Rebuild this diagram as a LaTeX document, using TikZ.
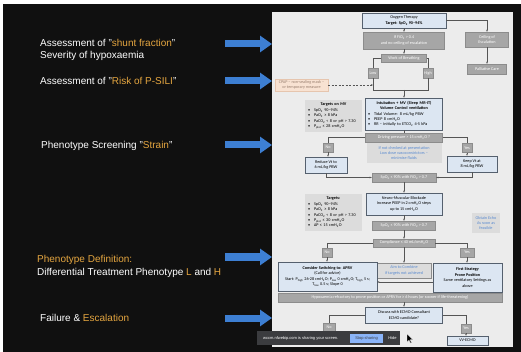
\documentclass[tikz,border=0pt]{standalone}
\usepackage{fontspec}
\setmainfont{Liberation Sans}
\newfontfamily\carlito{Carlito}
\usetikzlibrary{arrows.meta, positioning, calc}
\definecolor{slidegold}{HTML}{E5A640}
\definecolor{slideblack}{HTML}{101010}
\definecolor{arrowblue}{HTML}{3D7FD3}
\definecolor{chartbg}{HTML}{ECECEC}
\definecolor{boxblue}{HTML}{DCE6F2}
\definecolor{boxedge}{HTML}{55606E}
\definecolor{boxgray}{HTML}{A6A6A6}
\definecolor{grayedge}{HTML}{8C8C8C}
\definecolor{boxlight}{HTML}{DCDCDC}
\definecolor{textblue}{HTML}{5B8BD0}
\definecolor{lineclr}{HTML}{555555}
\definecolor{peach}{HTML}{F8E2D2}
\definecolor{peachedge}{HTML}{E6C5AE}
\definecolor{cpaptext}{HTML}{9A8070}
\definecolor{barclr}{HTML}{3B3C3F}
\definecolor{stopblue}{HTML}{8AB4F8}
\newcommand{\subtxt}[1]{\textsubscript{#1}}
\newcommand{\bul}{\makebox[6pt][l]{•}}
\newcommand{\hl}[1]{\textcolor{slidegold}{#1}}

\begin{document}
\begin{tikzpicture}[
    x=1pt, y=-1pt,
    side/.style={text=white, anchor=west, inner sep=0pt, font=\fontsize{10}{12}\selectfont},
    bigarrow/.style={arrowblue, line width=7pt, -{Triangle[length=12pt, width=16pt]}},
    flow/.style={font=\carlito\fontsize{4.2}{5.4}\selectfont, align=center, inner sep=0.5pt},
    bluebox/.style={flow, draw=boxedge, fill=boxblue, line width=0.5pt},
    graybox/.style={flow, draw=grayedge, fill=boxgray, text=white, line width=0.4pt},
    tagbox/.style={graybox, minimum width=10pt, minimum height=9pt},
    notebox/.style={flow, fill=boxlight, text=textblue},
    targetbox/.style={flow, fill=boxlight, align=left, inner xsep=3pt},
    link/.style={draw=lineclr, line width=0.4pt},
    arr/.style={link, -{Stealth[length=2.2pt, width=1.8pt]}},
]
\useasboundingbox (0,0) rectangle (521,352);
% --- slide background ---
\fill[white] (0,0) rectangle (521,352);
\fill[slideblack] (3,4) rectangle (521,352);
\fill[chartbg] (272,12) rectangle (513,347);

% --- left column: steps and blue arrows ---
\node[side] (shunt) at (40,43) {Assessment of "\hl{shunt fraction}"};
\node[side] (severity) at (40,56) {Severity of hypoxaemia};
\node[side] (psili) at (40,81) {Assessment of "\hl{Risk of P-SILI}"};
\node[side] (strain) at (41,146) {Phenotype Screening "\hl{Strain}"};
\node[side] (phenodef) at (37,260) {\hl{Phenotype Definition:}};
\node[side] (phenoLH) at (37,273) {Differential Treatment Phenotype \hl{L} and \hl{H}};
\node[side] (failure) at (40,318) {Failure \& \hl{Escalation}};

\foreach \ypos in {44, 81, 145, 257, 318}
    \draw[bigarrow] (225,\ypos) -- (272,\ypos);

% --- flowchart: top ---
\node[bluebox, minimum width=84pt, minimum height=15pt] (oxy) at (404,20.5)
    {Oxygen Therapy\\\textbf{Target: SpO\subtxt{2} 90–94\%}};
\node[graybox, minimum width=81pt, minimum height=17pt] (fio) at (404,40.5)
    {If FiO\subtxt{2} > 0.4\\and no ceiling of escalation};
\node[graybox, minimum width=43pt, minimum height=15pt] (ceil) at (487,39.5)
    {Ceiling of\\Escalation};
\node[graybox, minimum width=39pt, minimum height=10pt] (pall) at (487,69) {Palliative Care};
\node[graybox, minimum width=45pt, minimum height=8pt] (wob) at (404,58) {Work of Breathing};
\node[tagbox, minimum height=10pt] (low) at (373,73) {Low};
\node[tagbox, minimum height=10pt] (high) at (428,73) {High};
\coordinate (merge) at (404,90);
\node[flow, fill=peach, draw=peachedge, text=cpaptext, minimum width=53pt, minimum height=12pt]
    (cpap) at (301.5,85) {CPAP – non-sealing mask –\\or temporary measure};

% --- flowchart: ventilation ---
\node[targetbox, minimum width=57pt, minimum height=32pt, text width=51pt] (mvaims) at (333.5,116)
    {\hfill\textbf{Targets on MV}\hfill\null\\
     \bul SpO\subtxt{2} 90–94\%\\
     \bul PaO\subtxt{2} ≥ 8 kPa\\
     \bul PaCO\subtxt{2} < 8 or pH > 7.30\\
     \bul P\subtxt{plat} ≤ 28 cmH\subtxt{2}O};
\node[bluebox, minimum width=77pt, minimum height=32pt, text width=72pt, align=left] (intub) at (404,114)
    {\hfill\textbf{Intubation + MV (Sleep MR-IT)}\hfill\null\\
     \hfill\textbf{Volume Control ventilation}\hfill\null\\
     \bul Tidal Volume: 8 mL/kg PBW\\
     \bul PEEP 8 cmH\subtxt{2}O\\
     \bul RR – initially to ETCO\subtxt{2} 4-5 kPa};
\node[graybox, minimum width=77pt, minimum height=9pt] (dp) at (404,137.5)
    {Driving pressure > 15 cmH\subtxt{2}O ?};
\node[notebox, minimum width=75pt, minimum height=20pt] (nochk) at (404,153)
    {If not checked at presentation\\Low dose vasoconstrictors –\\minimise fluids};
\node[tagbox] (no1) at (328,147.5) {No};
\node[bluebox, minimum width=42pt, minimum height=16pt] (reduce) at (326,165) {Reduce Vt to\\6 mL/kg PBW};
\node[tagbox] (yes1) at (467,148) {Yes};
\node[bluebox, minimum width=50pt, minimum height=16pt] (keep) at (472,164) {Keep Vt at\\8 mL/kg PBW};
\node[graybox, minimum width=64pt, minimum height=9pt] (spo1) at (404,177.5)
    {SpO\subtxt{2} ≤ 90\% with FiO\subtxt{2} > 0.7};

% --- flowchart: recruitment ---
\node[bluebox, minimum width=76pt, minimum height=22pt] (nmb) at (404,204)
    {Neuro-Muscular Blockade\\Increase PEEP in 2 cmH\subtxt{2}O steps\\up to 15 cmH\subtxt{2}O};
\node[targetbox, minimum width=57pt, minimum height=37pt, text width=51pt] (aims) at (333.5,212.5)
    {\hfill\textbf{Targets:}\hfill\null\\
     \bul SpO\subtxt{2} 90–94\%\\
     \bul PaO\subtxt{2} ≥ 8 kPa\\
     \bul PaCO\subtxt{2} < 8 or pH > 7.30\\
     \bul P\subtxt{plat} ≤ 30 cmH\subtxt{2}O\\
     \bul ΔP ≤ 15 cmH\subtxt{2}O};
\node[graybox, minimum width=63pt, minimum height=9pt] (spo2) at (404,225.5)
    {SpO\subtxt{2} ≤ 90\% with FiO\subtxt{2} > 0.7};
\node[graybox, minimum width=62pt, minimum height=8pt] (comp) at (404,243)
    {Compliance ≤ 40 mL/cmH\subtxt{2}O};
\node[notebox, minimum width=28pt, minimum height=20pt] (echo) at (486,223)
    {Obtain Echo\\As soon as\\feasible};
\node[tagbox] (no2) at (327,252.5) {No};
\node[tagbox, minimum width=14pt] (yes2) at (467,252.5) {Yes};

% --- flowchart: phenotype strategies ---
\node[notebox, draw=grayedge, line width=0.4pt, minimum width=54pt, minimum height=15pt] (combine) at (404,270.5)
    {Aim to Combine\\if targets not achieved};
\node[bluebox, minimum width=99pt, minimum height=29pt] (aprv) at (327.5,276.5)
    {\textbf{Consider Switching to: APRV}\\(Call for advice)\\
     Start: P\subtxt{high} 26-28 cmH\subtxt{2}O; P\subtxt{low} 0 cmH\subtxt{2}O; T\subtxt{high} 5 s;\\
     T\subtxt{low} 0.5 s; Slope 0};
\node[bluebox, minimum width=69pt, minimum height=29pt] (first) at (467.5,277.5)
    {\textbf{First Strategy}\\\textbf{Prone Position}\\Same ventilatory Settings as\\above};
\node[graybox, minimum width=224pt, minimum height=9pt] (hypo) at (390,297.5)
    {Hypoxaemia refractory to prone position or APRV for ≥ 6 hours (or sooner if life-threatening)};

% --- flowchart: escalation ---
\node[bluebox, minimum width=77pt, minimum height=16pt] (ecmo) at (404,315)
    {Discuss with ECMO Consultant\\ECMO candidate?};
\node[tagbox, minimum height=8pt, minimum width=12pt] (no3) at (329,327) {No};
\node[tagbox] (yes3) at (466,328.5) {Yes};
\node[bluebox, minimum width=41pt, minimum height=9pt] (vv) at (467.5,340.5) {VV-ECMO};

% --- connectors ---
\draw[arr] (oxy) -- (fio);
\draw[arr] (oxy.east) -| (ceil.north);
\draw[arr] (ceil) -- (pall);
\draw[arr] (fio) -- (wob);
\draw[link] (wob.west) -| (low.north);
\draw[link] (wob.east) -| (high.north);
\draw[link] (low.south) |- (merge);
\draw[link] (high.south) |- (merge);
\draw[arr] (merge) -- (intub.north);
\draw[arr, dash pattern=on 2pt off 1.5pt] (cpap.east) -- (cpap.east -| low.south);
\draw[link] (intub) -- (dp);
\draw[link] (dp.west) -| (no1.north);
\draw[arr] (no1.south) -- (no1.south |- reduce.north);
\draw[link] (dp.east) -| (yes1.north);
\draw[arr] (yes1.south) -- (yes1.south |- keep.north);
\draw[arr] (reduce.south) |- (spo1.west);
\draw[arr] (keep.south) |- (spo1.east);
\draw[arr] (spo1) -- (nmb);
\draw[arr] (nmb) -- (spo2);
\draw[arr] (spo2) -- (comp);
\draw[link] (comp.west) -| (no2.north);
\draw[arr] (no2.south) -- (no2.south |- aprv.north);
\draw[link] (comp.east) -| (yes2.north);
\draw[arr] (yes2.south) -- (yes2.south |- first.north);
\draw[arr] (comp) -- (combine);
\draw[arr] ([yshift=-4.5pt]first.west) -- ([yshift=-4.5pt]first.west -| aprv.east);
\draw[arr] (hypo.south -| ecmo.north) -- (ecmo.north);
\draw[link] (ecmo.west) -| (no3.north);
\draw[link] (ecmo.east) -| (yes3.north);
\draw[arr] (yes3.south) -- (yes3.south |- vv.north);

% --- screen sharing bar and pointer ---
\fill[barclr] (257,331) rectangle (400,345);
\node[font=\fontsize{4}{5}\selectfont, text=white, anchor=west, inner sep=0pt] (share) at (263,338)
    {wccm.nfwebip.com is sharing your screen.};
\node[fill=stopblue, text=barclr, font=\fontsize{4}{5}\selectfont, minimum width=33pt,
      minimum height=9pt, inner sep=0pt] (stop) at (366.5,338.5) {Stop sharing};
\node[font=\fontsize{4}{5}\selectfont, text=white, inner sep=0pt] (hide) at (392.5,338) {Hide};
\fill[black, draw=white, line width=0.2pt] (407,334) -- (407,342) -- (409,340.2) -- (410.5,343)
    -- (411.5,342.5) -- (410,339.8) -- (412.5,339.5) -- cycle;
\end{tikzpicture}
\end{document}
